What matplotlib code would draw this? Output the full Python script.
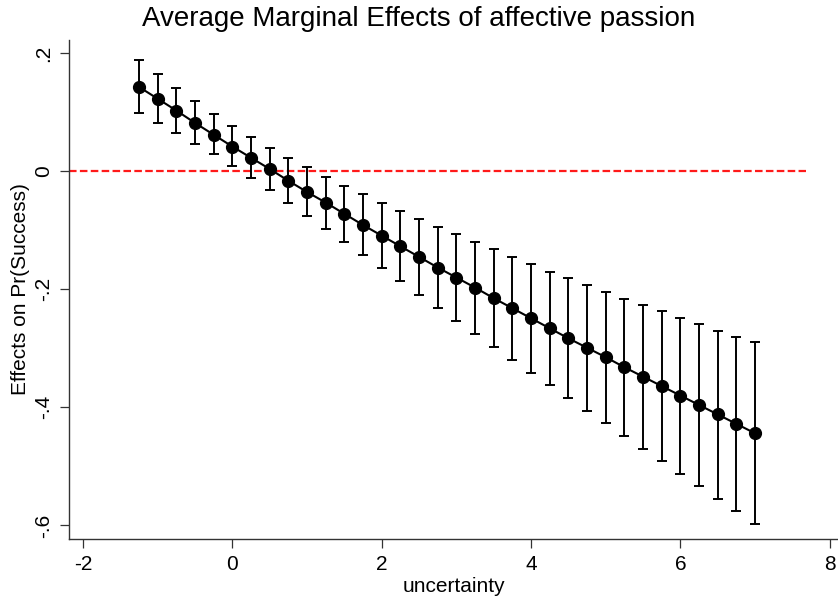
#!/usr/bin/env python
# coding: utf-8

# Average marginal effects of affective passion across uncertainty (Stata-style margins plot).

import numpy as np
import matplotlib
matplotlib.use("Agg")
import matplotlib.pyplot as plt

plt.rcParams["font.family"] = ["Liberation Sans", "DejaVu Sans"]
plt.rcParams["axes.unicode_minus"] = False

# ------------------------------------------------------------------
# Data
# ------------------------------------------------------------------
uncertainty = [-1.25, -1.0, -0.75, -0.5, -0.25, 0.0, 0.25, 0.5, 0.75,
               1.0, 1.25, 1.5, 1.75, 2.0, 2.25, 2.5, 2.75, 3.0, 3.25,
               3.5, 3.75, 4.0, 4.25, 4.5, 4.75, 5.0, 5.25, 5.5, 5.75,
               6.0, 6.25, 6.5, 6.75, 7.0]
effect = [0.143, 0.123, 0.103, 0.082, 0.062, 0.042, 0.023, 0.004, -0.016,
          -0.035, -0.053, -0.072, -0.091, -0.109, -0.127, -0.145, -0.163,
          -0.180, -0.197, -0.215, -0.232, -0.249, -0.266, -0.283, -0.299,
          -0.315, -0.332, -0.348, -0.364, -0.380, -0.396, -0.412, -0.428,
          -0.444]
ci_low = [0.099, 0.082, 0.065, 0.047, 0.029, 0.009, -0.011, -0.032, -0.054,
          -0.075, -0.098, -0.120, -0.142, -0.164, -0.186, -0.209, -0.231,
          -0.254, -0.275, -0.297, -0.319, -0.341, -0.362, -0.384, -0.406,
          -0.427, -0.449, -0.470, -0.491, -0.513, -0.534, -0.555, -0.576,
          -0.598]
ci_high = [0.189, 0.165, 0.141, 0.119, 0.097, 0.076, 0.058, 0.039, 0.023,
           0.007, -0.009, -0.025, -0.039, -0.053, -0.067, -0.081, -0.094,
           -0.107, -0.119, -0.132, -0.145, -0.157, -0.170, -0.181, -0.193,
           -0.205, -0.216, -0.227, -0.237, -0.249, -0.259, -0.270, -0.280,
           -0.290]

x_ticks = [-2, 0, 2, 4, 6, 8]
x_ticklabels = ["-2", "0", "2", "4", "6", "8"]
y_ticks = [0.2, 0.0, -0.2, -0.4, -0.6]
y_ticklabels = [".2", "0", "-.2", "-.4", "-.6"]

# ------------------------------------------------------------------
# Figure
# ------------------------------------------------------------------
fig = plt.figure(figsize=(8.38, 5.98), dpi=100)
ax = fig.add_axes([0.0827, 0.0987, 0.9173, 0.8344])

eff = np.array(effect)
yerr = np.vstack([eff - np.array(ci_low), np.array(ci_high) - eff])

# reference line at zero
ax.axhline(0, xmin=0, xmax=0.958, color="#ff1a1a", linewidth=1.6,
           linestyle=(0, (3.4, 1.5)), zorder=1)

ax.errorbar(uncertainty, eff, yerr=yerr, fmt="none", ecolor="black",
            elinewidth=1.4, capsize=3.8, capthick=1.4, zorder=2)
ax.plot(uncertainty, eff, "-o", color="black", linewidth=1.5,
        markersize=8.5, zorder=3)

ax.set_xlim(-2.183, 8.11)
ax.set_ylim(-0.623, 0.2225)

ax.set_xticks(x_ticks)
ax.set_xticklabels(x_ticklabels, fontsize=15)
ax.set_yticks(y_ticks)
ax.set_yticklabels(y_ticklabels, fontsize=15, rotation=90, va="center")

ax.tick_params(axis="both", direction="out", length=6.5, width=0.9,
               color="#333333", pad=5)
for side in ["top", "right"]:
    ax.spines[side].set_visible(False)
for side in ["left", "bottom"]:
    ax.spines[side].set_color("#333333")
    ax.spines[side].set_linewidth(1.0)

ax.set_xlabel("uncertainty", fontsize=15, labelpad=2)
ax.set_ylabel("Effects on Pr(Success)", fontsize=15, labelpad=3)

fig.text(0.5, 0.968, "Average Marginal Effects of affective passion",
         ha="center", va="center", fontsize=20)

fig.savefig("out.png", dpi=100)
plt.close(fig)
